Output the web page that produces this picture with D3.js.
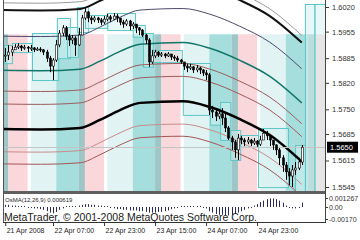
<!DOCTYPE html>
<html>
<head>
<meta charset="utf-8">
<script src="https://cdn.jsdelivr.net/npm/d3@7"></script>
<style>
html, body { margin: 0; padding: 0; background: #fff; }
svg { display: block; }
text { font-family: "Liberation Sans", Arial, sans-serif; }
</style>
</head>
<body>
<svg id="chart" width="360" height="240"></svg>
<script>
// hourly bars, hour index counted from 21 Apr 2008 00:00
const firstHour = 16;
const closes = [
    1.5893, 1.5901, 1.5907, 1.5914, 1.5917, 1.5912, 1.5914, 1.5912, 1.5912, 1.5907,
    1.5909, 1.5907, 1.5901, 1.5885, 1.5864, 1.5880, 1.5920, 1.5951, 1.5965, 1.5943,
    1.5933, 1.5938, 1.5920, 1.5946, 1.5991, 1.6007, 1.5991, 1.5986, 1.5991, 1.5986,
    1.5980, 1.5988, 1.5994, 1.5988, 1.5996, 1.5991, 1.5980, 1.5975, 1.5983, 1.5970,
    1.5975, 1.5965, 1.5959, 1.5946, 1.5933, 1.5875, 1.5891, 1.5901, 1.5893, 1.5896,
    1.5891, 1.5896, 1.5888, 1.5885, 1.5880, 1.5875, 1.5864, 1.5859, 1.5862, 1.5854,
    1.5859, 1.5854, 1.5846, 1.5841, 1.5748, 1.5743, 1.5732, 1.5738, 1.5727, 1.5701,
    1.5674, 1.5664, 1.5643, 1.5674, 1.5669, 1.5664, 1.5669, 1.5661, 1.5666, 1.5658,
    1.5669, 1.5687, 1.5680, 1.5669, 1.5656, 1.5643, 1.5622, 1.5603, 1.5585, 1.5574,
    1.5590, 1.5595, 1.5611, 1.5650
];
const highs = [
    1.5912, 1.5920, 1.5917, 1.5922, 1.5925, 1.5920, 1.5920, 1.5917, 1.5920, 1.5914,
    1.5914, 1.5914, 1.5909, 1.5907, 1.5891, 1.5885, 1.5933, 1.5959, 1.5972, 1.5970,
    1.5949, 1.5946, 1.5943, 1.5965, 1.5999, 1.6017, 1.6009, 1.5996, 1.5996, 1.5994,
    1.5991, 1.5996, 1.6002, 1.5999, 1.6004, 1.6002, 1.5991, 1.5986, 1.5988, 1.5986,
    1.5980, 1.5975, 1.5967, 1.5962, 1.5949, 1.5938, 1.5907, 1.5907, 1.5904, 1.5901,
    1.5899, 1.5901, 1.5896, 1.5893, 1.5891, 1.5883, 1.5875, 1.5870, 1.5870, 1.5864,
    1.5867, 1.5862, 1.5856, 1.5854, 1.5846, 1.5759, 1.5748, 1.5748, 1.5753, 1.5738,
    1.5706, 1.5680, 1.5669, 1.5685, 1.5680, 1.5674, 1.5677, 1.5672, 1.5674, 1.5669,
    1.5680, 1.5698, 1.5693, 1.5682, 1.5669, 1.5658, 1.5648, 1.5629, 1.5611, 1.5595,
    1.5603, 1.5611, 1.5622, 1.5656
];
const lows = [
    1.5875, 1.5880, 1.5891, 1.5907, 1.5909, 1.5904, 1.5907, 1.5901, 1.5904, 1.5901,
    1.5904, 1.5901, 1.5893, 1.5875, 1.5848, 1.5827, 1.5875, 1.5914, 1.5943, 1.5933,
    1.5917, 1.5922, 1.5891, 1.5917, 1.5959, 1.5986, 1.5980, 1.5975, 1.5980, 1.5978,
    1.5972, 1.5975, 1.5983, 1.5980, 1.5986, 1.5980, 1.5972, 1.5965, 1.5970, 1.5959,
    1.5962, 1.5951, 1.5946, 1.5941, 1.5922, 1.5862, 1.5870, 1.5885, 1.5888, 1.5888,
    1.5885, 1.5888, 1.5880, 1.5878, 1.5875, 1.5870, 1.5854, 1.5848, 1.5854, 1.5846,
    1.5848, 1.5843, 1.5838, 1.5827, 1.5735, 1.5727, 1.5719, 1.5724, 1.5709, 1.5690,
    1.5669, 1.5643, 1.5622, 1.5616, 1.5658, 1.5653, 1.5658, 1.5653, 1.5656, 1.5651,
    1.5653, 1.5669, 1.5669, 1.5653, 1.5643, 1.5629, 1.5603, 1.5585, 1.5564, 1.5550,
    1.5545, 1.5577, 1.5590, 1.5603
];
const osma = [
    0.0003, 0.0003, 0.0002, 0.0002, 0.0001, 0.0001, 0.0000, -0.0001, -0.0001, -0.0002,
    -0.0002, -0.0003, -0.0004, -0.0006, -0.0008, -0.0009, -0.0007, -0.0004, -0.0002, 0.0000,
    0.0001, 0.0001, 0.0001, 0.0002, 0.0003, 0.0004, 0.0004, 0.0003, 0.0003, 0.0002,
    0.0002, 0.0001, 0.0000, -0.0001, -0.0002, -0.0003, -0.0003, -0.0004, -0.0004, -0.0005,
    -0.0005, -0.0005, -0.0006, -0.0006, -0.0007, -0.0008, -0.0008, -0.0008, -0.0007, -0.0007,
    -0.0006, -0.0005, -0.0003, -0.0002, -0.0001, 0.0000, 0.0001, 0.0001, 0.0001, 0.0001,
    0.0000, 0.0000, -0.0001, -0.0002, -0.0006, -0.0008, -0.0010, -0.0011, -0.0011, -0.0012,
    -0.0012, -0.0011, -0.0010, -0.0008, -0.0006, -0.0004, -0.0002, -0.0001, 0.0002, 0.0004,
    0.0007, 0.0009, 0.0011, 0.0012, 0.0012, 0.0011, 0.0009, 0.0006, 0.0002, -0.0001,
    -0.0002, -0.0002, -0.0001, 0.000619
];

// slow moving average (knots) and its envelope offsets
const maHours  = [15.3, 27, 39.5, 45.7, 52, 58.3, 71.7, 80.2, 89.6, 99, 109];
const maPrices = [1.5698, 1.5697, 1.5701, 1.5722, 1.5748, 1.5767, 1.5771, 1.5756, 1.5724, 1.5682, 1.5612];
const envOffsets = [0.0333, 0.0314, 0.0245, 0.0155, 0.0100, 0.0066, 0, -0.0060, -0.0092];

// trading sessions (hour of day)
const sessionNames = ["asia", "europe", "overlap", "america"];
const sessionStart = [0, 8, 15, 17];
const sessionEnd   = [8, 15, 17, 23];
const sessionTopPrice = 1.5948;
const dayStarts = [0, 24, 48, 72, 96];

// range boxes
const boxStart = [15.6, 18.1, 24.4, 32.2, 35.4, 38.5, 41, 48, 56, 59.2, 62.3, 71.7, 80.2, 83.4, 86.6, 89.7, 95.3, 106.9, 110, 113];
const boxEnd   = [18.1, 24.4, 32.6, 36.3, 38.8, 42, 48, 56.7, 59.8, 62.3, 71.4, 80.2, 84, 86.6, 89.7, 95.3, 104.7, 110, 113, 116.3];
const boxHigh  = [1.5920, 1.5925, 1.5951, 1.5991, 1.5967, 1.6020, 1.5999, 1.6004, 1.5972, 1.5951, 1.5907, 1.5872, 1.5753, 1.5769, 1.5695, 1.5682, 1.5701, 1.5656, 1.6028, 1.6028];
const boxLow   = [1.5872, 1.5901, 1.5827, 1.5885, 1.5888, 1.5954, 1.5965, 1.5959, 1.5941, 1.5862, 1.5875, 1.5735, 1.5709, 1.5669, 1.5616, 1.5651, 1.5545, 1.5530, 1.5530, 1.5530];

// axes
const priceTicks = [1.6020, 1.5955, 1.5885, 1.5820, 1.5750, 1.5685, 1.5615, 1.5545];
const bidPrice = 1.5650;
const osmaTicks = [0.001267, 0, -0.0017];
const osmaTickLabels = ["0.001267", "0.00", "-0.00170"];
const timeTicks = [16, 31, 47, 63, 79, 95];
const timeLabels = ["21 Apr 2008", "22 Apr 07:00", "22 Apr 23:00", "23 Apr 15:00", "24 Apr 07:00", "24 Apr 23:00"];
const osmaTitle = "OsMA(12,26,9) 0.000619";
const copyright = "MetaTrader, \u00a9 2001-2008 MetaQuotes Software Corp.";

const plot = {left: 3, right: 325, top: 0, bottom: 191, subTop: 194, subBottom: 222};

function render () {
    const svg = d3.select("#chart");

    const x = d3.scaleLinear().domain([15.3, 116.3]).range([plot.left, plot.right]);
    const y = d3.scaleLinear().domain([1.5545, 1.6020]).range([187, 7]);
    const yo = d3.scaleLinear().domain([-0.0017, 0.001267]).range([219, 198]);

    const defs = svg.append("defs");
    defs.append("clipPath").attr("id", "clipMain")
        .append("rect").attr("x", plot.left).attr("y", plot.top)
        .attr("width", plot.right - plot.left).attr("height", plot.bottom - plot.top);
    defs.append("clipPath").attr("id", "clipSub")
        .append("rect").attr("x", plot.left).attr("y", plot.subTop)
        .attr("width", plot.right - plot.left).attr("height", plot.subBottom - plot.subTop);

    const main = svg.append("g").attr("clip-path", "url(#clipMain)");

    // session bands
    const sessionColor = {asia: "#e2f3f3", europe: "#a5dedd", overlap: "#9fc6c6", america: "#f9d7da"};
    const bands = [];
    dayStarts.forEach(d => {
        sessionNames.forEach((s, i) => {
            bands.push({name: s, start: d + sessionStart[i], end: d + sessionEnd[i]});
        });
    });
    main.selectAll("rect.band")
        .data(bands)
        .join("rect")
        .attr("class", "band")
        .attr("x", d => x(d.start))
        .attr("width", d => x(d.end) - x(d.start))
        .attr("y", y(sessionTopPrice))
        .attr("height", plot.bottom - y(sessionTopPrice))
        .attr("fill", d => sessionColor[d.name]);

    // range boxes
    const boxes = boxStart.map((s, i) => ({s, e: boxEnd[i], hi: boxHigh[i], lo: boxLow[i]}));
    main.selectAll("rect.box")
        .data(boxes)
        .join("rect")
        .attr("class", "box")
        .attr("x", d => x(d.s) + 0.5)
        .attr("width", d => x(d.e) - x(d.s))
        .attr("y", d => Math.round(y(d.hi)) + 0.5)
        .attr("height", d => y(d.lo) - y(d.hi))
        .attr("fill", "rgba(214,240,240,0.55)")
        .attr("stroke", "#5ec6c6")
        .attr("stroke-width", 1);

    // moving average envelopes
    const envStyle = {
        "0.0333": ["#9a9a9a", 1], "0.0314": ["#111", 2], "0.0245": ["#4d4a6e", 1],
        "0.0155": ["#127569", 1.5], "0.01": ["#9b5c5c", 1], "0.0066": ["#9b5c5c", 1],
        "0": ["#000", 2.5], "-0.006": ["#c88c8c", 1], "-0.0092": ["#a35656", 1]
    };
    const line = d3.line()
        .x(d => x(d[0]))
        .y(d => y(d[1]))
        .curve(d3.curveMonotoneX);
    envOffsets.forEach(off => {
        const st = envStyle[String(off)];
        main.append("path")
            .attr("d", line(maHours.map((h, i) => [h, maPrices[i] + off])))
            .attr("fill", "none")
            .attr("stroke", st[0])
            .attr("stroke-width", st[1]);
    });

    // bid line
    main.append("line")
        .attr("x1", plot.left).attr("x2", plot.right)
        .attr("y1", Math.round(y(bidPrice)) + 0.5).attr("y2", Math.round(y(bidPrice)) + 0.5)
        .attr("stroke", "#c4c4c4").attr("stroke-width", 1);

    // candles
    const bars = closes.map((c, i) => {
        const o = i > 0 ? closes[i - 1] : c;
        return {h: firstHour + i, o, c, hi: Math.max(highs[i], o, c), lo: Math.min(lows[i], o, c)};
    });
    const candle = main.selectAll("g.candle")
        .data(bars)
        .join("g")
        .attr("class", "candle");
    candle.append("line")
        .attr("x1", d => Math.round(x(d.h)) + 0.5)
        .attr("x2", d => Math.round(x(d.h)) + 0.5)
        .attr("y1", d => y(d.hi))
        .attr("y2", d => y(d.lo))
        .attr("stroke", "#000")
        .attr("stroke-width", 1);
    candle.append("rect")
        .attr("x", d => Math.round(x(d.h)) - 0.5)
        .attr("width", 2)
        .attr("y", d => y(Math.max(d.o, d.c)))
        .attr("height", d => Math.max(1, Math.abs(y(d.o) - y(d.c))))
        .attr("fill", d => d.c >= d.o ? "#fff" : "#000")
        .attr("stroke", "#000")
        .attr("stroke-width", 0.6);

    // frame
    svg.append("rect")
        .attr("x", plot.left).attr("y", plot.bottom)
        .attr("width", plot.right - plot.left).attr("height", plot.subTop - plot.bottom)
        .attr("fill", "#5f5f5f");
    svg.append("line")
        .attr("x1", plot.left).attr("x2", plot.right + 1)
        .attr("y1", plot.subBottom + 0.5).attr("y2", plot.subBottom + 0.5)
        .attr("stroke", "#333");
    svg.append("line")
        .attr("x1", plot.left + 0.5).attr("x2", plot.left + 0.5)
        .attr("y1", 0).attr("y2", plot.subBottom)
        .attr("stroke", "#555");
    svg.append("line")
        .attr("x1", plot.right + 0.5).attr("x2", plot.right + 0.5)
        .attr("y1", 0).attr("y2", plot.subBottom)
        .attr("stroke", "#444");

    // OsMA histogram
    const sub = svg.append("g").attr("clip-path", "url(#clipSub)");
    sub.selectAll("line.osma")
        .data(osma)
        .join("line")
        .attr("class", "osma")
        .attr("x1", (d, i) => Math.round(x(firstHour + i)) + 0.5)
        .attr("x2", (d, i) => Math.round(x(firstHour + i)) + 0.5)
        .attr("y1", yo(0))
        .attr("y2", d => Math.abs(yo(d) - yo(0)) < 1 ? yo(0) + (d < 0 ? 1 : -1) : yo(d))
        .attr("stroke", "#2a2a5a")
        .attr("stroke-width", 1);

    sub.append("text")
        .attr("x", 5).attr("y", 202)
        .attr("font-size", 6)
        .attr("fill", "#222")
        .text(osmaTitle);

    svg.append("text")
        .attr("x", 4).attr("y", 220.5)
        .attr("font-size", 10.5)
        .attr("fill", "#1a1a1a")
        .attr("textLength", 253)
        .attr("lengthAdjust", "spacingAndGlyphs")
        .text(copyright);

    // price axis
    const yAxis = svg.append("g")
        .attr("transform", `translate(${plot.right + 1},0)`)
        .call(d3.axisRight(y).tickValues(priceTicks).tickFormat(d3.format(".4f")).tickSize(3).tickPadding(3));
    yAxis.select(".domain").remove();
    yAxis.selectAll("line").attr("stroke", "#333");
    yAxis.selectAll("text").attr("font-size", 7.5).attr("fill", "#333")
        .attr("font-family", "'Liberation Sans', Arial, sans-serif");

    // bid label
    svg.append("rect")
        .attr("x", 327).attr("y", y(bidPrice) - 5.5)
        .attr("width", 31).attr("height", 11)
        .attr("fill", "#000");
    svg.append("text")
        .attr("x", 330).attr("y", y(bidPrice))
        .attr("dy", "0.35em")
        .attr("font-size", 7.5)
        .attr("fill", "#fff")
        .text(d3.format(".4f")(bidPrice));

    // OsMA axis
    const oAxis = svg.append("g")
        .attr("transform", `translate(${plot.right + 1},0)`)
        .call(d3.axisRight(yo).tickValues(osmaTicks).tickFormat((d, i) => osmaTickLabels[i]).tickSize(2).tickPadding(1));
    oAxis.select(".domain").remove();
    oAxis.selectAll("line").attr("stroke", "#333");
    oAxis.selectAll("text").attr("font-size", 7).attr("fill", "#333")
        .attr("font-family", "'Liberation Sans', Arial, sans-serif");

    // time axis
    const xAxis = svg.append("g")
        .attr("transform", `translate(0,${plot.subBottom + 1})`)
        .call(d3.axisBottom(x).tickValues(timeTicks).tickFormat((d, i) => timeLabels[i]).tickSize(3).tickPadding(2));
    xAxis.select(".domain").remove();
    xAxis.selectAll("line").attr("stroke", "#333");
    xAxis.selectAll("text")
        .attr("font-size", 7)
        .attr("fill", "#222")
        .attr("text-anchor", "start")
        .attr("x", 1)
        .attr("font-family", "'Liberation Sans', Arial, sans-serif");
}

render();
</script>
</body>
</html>
